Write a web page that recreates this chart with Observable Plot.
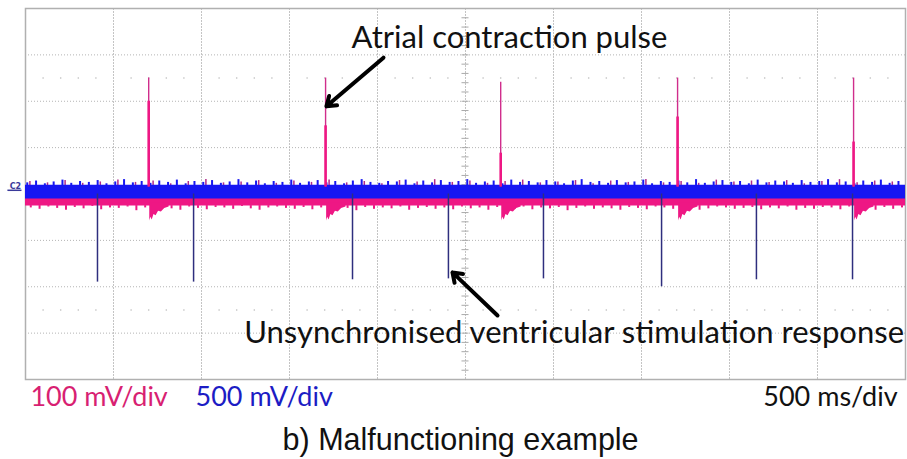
<!DOCTYPE html>
<html>
<head>
<meta charset="utf-8">
<script src="https://cdn.jsdelivr.net/npm/d3@7"></script>
<script src="https://cdn.jsdelivr.net/npm/@observablehq/plot@0.6"></script>
<style>
  html, body { margin: 0; padding: 0; background: #fff; }
  #chart svg { display: block; }
</style>
</head>
<body>
<div id="chart"></div>
<script>
// ---- Data (time in ms at 500 ms/div, amplitude in screen divisions) ----
const atrialTimes = [700, 1705, 2700, 3705, 4705];
const atrialPeak  = [2.5, 2.5, 2.41, 2.5, 2.5];
const atrialMid   = [2.0, 1.47, 0.88, 1.66, 1.12];

const ventTimes  = [409, 955, 1858, 2403, 2943, 3614, 4153, 4699];
const ventBottom = [-1.9, -1.9, -1.85, -1.83, -1.83, -2.0, -1.85, -1.85];

// noise envelope estimates (hundredths of a division), every 50 ms
const blueTop = [24,28,22,26,30,23,27,25,29,22, 26,31,24,27,23,28,25,30,22,27,
  25,29,23,26,31,24,28,22,27,25, 30,23,26,29,24,27,22,28,31,25,
  23,27,26,30,22,28,24,29,25,27, 31,23,26,28,22,30,25,27,24,29,
  26,22,28,31,25,27,23,29,24,26, 30,22,27,25,28,24,31,23,26,29,
  25,27,22,30,24,28,26,23,29,25, 27,31,24,26,22,28,25,30,23,27];
const pinkBottom = [-30,-33,-28,-31,-35,-29,-32,-27,-34,-30, -31,-28,-36,-30,-33,-29,-32,-35,-28,-31,
  -34,-29,-30,-33,-27,-32,-35,-30,-28,-31, -33,-29,-34,-30,-32,-28,-31,-36,-29,-33,
  -30,-32,-28,-35,-31,-29,-33,-30,-34,-28, -32,-30,-35,-29,-31,-33,-28,-34,-30,-32,
  -29,-36,-31,-28,-33,-30,-32,-35,-29,-31, -34,-28,-30,-33,-31,-29,-35,-32,-28,-30,
  -33,-31,-29,-34,-30,-32,-28,-35,-31,-33, -29,-30,-34,-28,-32,-31,-35,-29,-33,-30];
// every 100 ms, offset 25 ms
const pinkTop = [27,24,29,23,26,30,25,28,22,27, 31,24,26,29,23,28,25,30,24,27,
  22,29,26,31,25,28,23,27,30,24, 26,29,22,28,25,31,24,27,23,30,
  26,28,25,29,22,27,31,24,28,26];

// negative overshoot after each atrial pulse (ms after pulse, divisions)
const dipOffset = [0, 6, 14, 24, 36, 50, 66, 85, 110];
const dipDepth  = [-0.58, -0.5, -0.56, -0.44, -0.47, -0.37, -0.39, -0.31, -0.28];

const gridX = [500, 1000, 1500, 2000, 2500, 3000, 3500, 4000, 4500];
const gridY = [-3, -2, -1, 1, 2, 3];

const annotations = [
  {text: "Atrial contraction pulse", t: 2750, v: 3.36},
  {text: "Unsynchronised ventricular stimulation response", t: 3117, v: -3.0}
];
const arrows = [
  {t1: 2034, v1: 2.94, t2: 1710, v2: 1.89},
  {t1: 2682, v1: -2.62, t2: 2426, v2: -1.69}
];
const channelLabels = [
  {text: "100 mV/div", t: 28, color: "#d81f72"},
  {text: "500 mV/div", t: 966, color: "#1c1cc4"}
];
const timeLabel = {text: "500 ms/div", t: 4955, color: "#111"};
const caption = "b) Malfunctioning example";

// ---- derived tables ----
const PINK = "#ee1784", BLUE = "#1616f2", NAVY = "#2e2e7e";
const blueTopData = blueTop.map((v, i) => ({t: i * 50 + 10, v: v / 100}));
const pinkBottomData = pinkBottom.map((v, i) => ({t: i * 50 + 30, v: v / 100}));
const pinkTopData = pinkTop.map((v, i) => ({t: i * 100 + 25, v: v / 100}));
const atrial = atrialTimes.map((t, i) => ({t, peak: atrialPeak[i], mid: atrialMid[i]}));
const vent = ventTimes.map((t, i) => ({t, b: ventBottom[i]}));
const dips = atrialTimes.flatMap((t0, k) => dipOffset.map((o, j) => ({k, t: t0 + 6 + o, v: dipDepth[j]})));
const span = [{t: 0}, {t: 5000}];
const minorY = d3.range(-4, 4.001, 0.2).map(v => +v.toFixed(2));
const dotsX = d3.range(0, 5001, 100).filter(t => t % 500 !== 0);
const dotRows = [2.5, -2.5].flatMap(v => dotsX.map(t => ({t, v})));

const chart = Plot.plot({
  width: 907,
  height: 459,
  marginLeft: 25,
  marginRight: 2,
  marginTop: 8,
  marginBottom: 80,
  x: {domain: [0, 5000], axis: null},
  y: {domain: [-4, 4], axis: null},
  style: {background: "#fff"},
  marks: [
    Plot.ruleX(gridX, {stroke: "#c4c4c4", strokeWidth: 1, strokeDasharray: "2,1"}),
    Plot.ruleY(gridY, {stroke: "#b4b4b4", strokeWidth: 1, strokeDasharray: "1,2"}),
    Plot.dot(dotRows, {x: "t", y: "v", r: 0.8, fill: "#bbb", stroke: null}),
    Plot.ruleY(minorY, {x1: 2480, x2: 2520, stroke: "#aaa", strokeWidth: 1}),
    Plot.frame({stroke: "#b0b0b0", strokeWidth: 1.5}),
    // pink channel
    Plot.areaY(span, {x: "t", y1: -0.26, y2: 0.16, fill: PINK}),
    Plot.ruleX(pinkBottomData, {x: "t", y1: -0.25, y2: "v", stroke: PINK, strokeWidth: 2}),
    Plot.areaY(dips, {x: "t", y1: -0.2, y2: "v", z: "k", fill: PINK}),
    Plot.ruleX(pinkTopData, {x: "t", y1: 0.15, y2: "v", stroke: "#b02a8a", strokeWidth: 1.5}),
    // blue channel
    Plot.areaY(span, {x: "t", y1: -0.11, y2: 0.19, fill: BLUE}),
    Plot.ruleX(blueTopData, {x: "t", y1: 0.18, y2: "v", stroke: BLUE, strokeWidth: 2}),
    // atrial pulses
    Plot.ruleX(atrial, {x: "t", y1: 0.15, y2: "peak", stroke: "#d02d8c", strokeWidth: 1.4}),
    Plot.ruleX(atrial, {x: "t", y1: 0.15, y2: "mid", stroke: PINK, strokeWidth: 2.6}),
    // ventricular stimulation spikes
    Plot.ruleX(vent, {x: "t", y1: 0, y2: "b", stroke: NAVY, strokeWidth: 1.5}),
    // C2 marker
    Plot.text(["C2"], {x: -57, y: 0.17, text: d => d, fontSize: 8, fontWeight: "bold", fill: "#3a3a9a", fontFamily: "DejaVu Sans"}),
    Plot.ruleY([0.08], {x1: -100, x2: -20, stroke: "#3a3a9a", strokeWidth: 1.5}),
    // annotations
    Plot.text(annotations, {x: "t", y: "v", text: "text", fontSize: 31, fontFamily: "Lato", fill: "#111", textAnchor: "middle"}),
    Plot.arrow(arrows, {x1: "t1", y1: "v1", x2: "t2", y2: "v2", stroke: "#000", strokeWidth: 4, headLength: 4, headAngle: 70}),
    // scale labels and caption
    Plot.text(channelLabels, {x: "t", y: -4.39, text: "text", textAnchor: "start", fill: "color", fontSize: 27, fontFamily: "Lato"}),
    Plot.text([timeLabel], {x: "t", y: -4.39, text: "text", textAnchor: "end", fill: "color", fontSize: 27, fontFamily: "Lato"}),
    Plot.text([caption], {x: 2472, y: -5.3, text: d => d, fontSize: 30.5, fontFamily: "Liberation Sans", fill: "#111", textAnchor: "middle"})
  ]
});
document.getElementById("chart").appendChild(chart);
</script>
</body>
</html>
